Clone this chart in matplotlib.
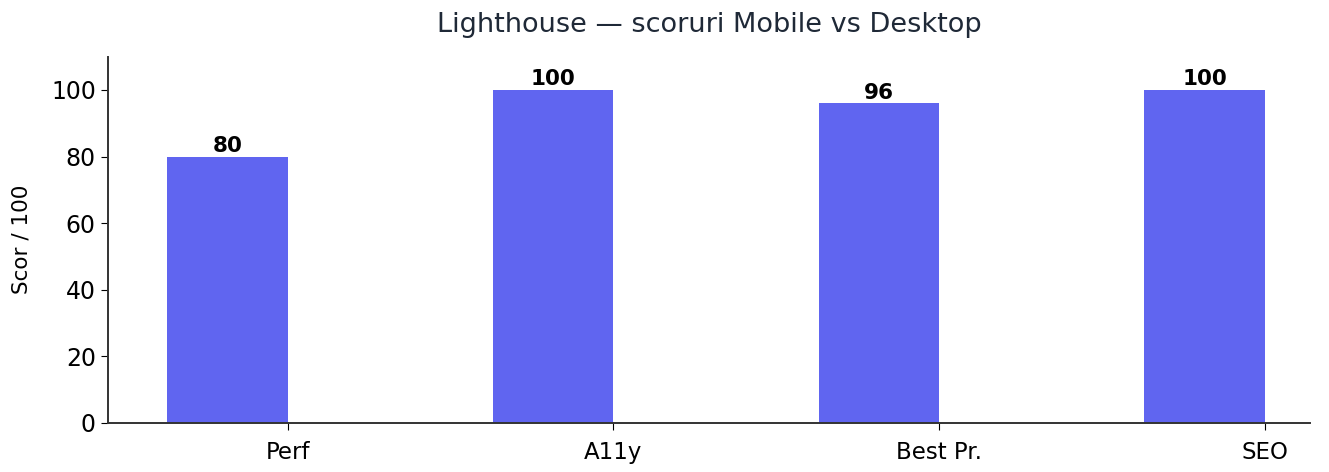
import numpy as np
import matplotlib
matplotlib.use("Agg")
import matplotlib.pyplot as plt

categories = ["Perf", "A11y", "Best Pr.", "SEO"]
mobile = [80, 100, 96, 100]

BAR_W = 0.37
COLOR = "#6065F0"

fig, ax = plt.subplots(figsize=(13.29, 4.72), dpi=100)
x = np.arange(len(categories))
bars = ax.bar(x, mobile, width=-BAR_W, align="edge", color=COLOR)

for b, v in zip(bars, mobile):
    ax.text(b.get_x() + b.get_width() / 2, v + 0.2, str(v),
            ha="center", va="bottom", fontsize=15.5, fontweight="bold")

ax.set_xticks(x)
ax.set_xticklabels(categories)
ax.set_ylim(0, 110)
ax.set_xlim(-0.553, 3.14)
ax.set_ylabel("Scor / 100", fontsize=15.5, labelpad=14)
ax.set_title("Lighthouse — scoruri Mobile vs Desktop", fontsize=19.5, color="#1f2937", pad=18)
ax.tick_params(axis="y", labelsize=17, length=5)
ax.tick_params(axis="x", labelsize=16.5, length=5, pad=8)
ax.spines["top"].set_visible(False)
ax.spines["right"].set_visible(False)
for s in ("left", "bottom"):
    ax.spines[s].set_color("#333333")
    ax.spines[s].set_linewidth(1.4)

fig.subplots_adjust(left=0.081, right=0.986, top=0.88, bottom=0.104)
fig.savefig("out.png", dpi=100)
